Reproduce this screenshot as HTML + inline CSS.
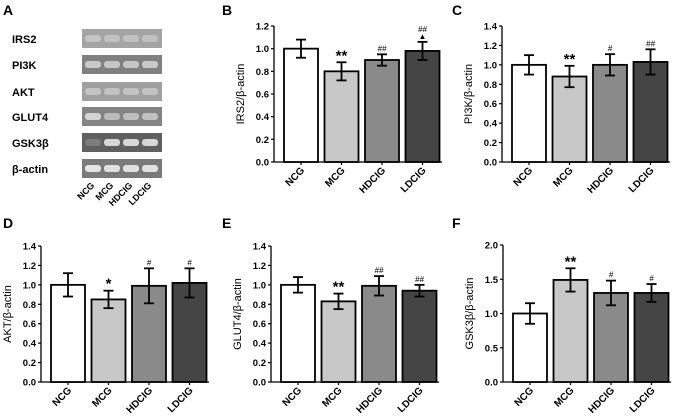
<!DOCTYPE html>
<html><head><meta charset="utf-8"><style>
html,body{margin:0;padding:0;background:#fff}
svg{display:block;font-family:"Liberation Sans",Arial,sans-serif}
</style></head><body>
<svg id="fig" width="673" height="417" viewBox="0 0 673 417"></svg>
<script>
const categories = ["NCG","MCG","HDCIG","LDCIG"];
const bValues = [1.0,0.8,0.9,0.98];
const bErrors = [0.08,0.08,0.05,0.08];
const bMarks = ["","**","##","##▲"];
const cValues = [1.0,0.88,1.0,1.03];
const cErrors = [0.1,0.11,0.11,0.13];
const cMarks = ["","**","#","##"];
const dValues = [1.0,0.85,0.99,1.02];
const dErrors = [0.12,0.09,0.18,0.15];
const dMarks = ["","*","#","#"];
const eValues = [1.0,0.83,0.99,0.94];
const eErrors = [0.08,0.08,0.1,0.06];
const eMarks = ["","**","##","##"];
const fValues = [1.0,1.49,1.3,1.3];
const fErrors = [0.15,0.17,0.18,0.13];
const fMarks = ["","**","#","#"];
const ticks12 = [0,0.2,0.4,0.6,0.8,1.0,1.2];
const ticks14 = [0,0.2,0.4,0.6,0.8,1.0,1.2,1.4];
const ticks20 = [0,0.5,1.0,1.5,2.0];
const gelGenes = ["IRS2","PI3K","AKT","GLUT4","GSK3β","β-actin"];
const fills = ["#ffffff","#c8c8c8","#8a8a8a","#454545"];
const NS="http://www.w3.org/2000/svg";
const svg=document.getElementById('fig');
function el(tag,attrs,parent,text){const e=document.createElementNS(NS,tag);for(const k in attrs)e.setAttribute(k,attrs[k]);if(text!==undefined)e.textContent=text;(parent||svg).appendChild(e);return e;}

function panel(letter,lx,ly,ax,top,bottom,ymax,ticks,values,errors,marks,ylabel){
  const g=el('g',{});
  
  
  const L=el('text',{x:lx,y:ly,'font-size':14,'font-weight':'bold'},g,letter);
  
  
  const y=v=>bottom-(v/ymax)*(bottom-top);
  const right=ax+168;
  const axG=el('g',{},g);
  
  
  el('line',{x1:ax,y1:top,x2:ax,y2:bottom,stroke:'#000','stroke-width':1.3},axG);
  ticks.forEach(t=>{
    el('line',{x1:ax-3,y1:y(t),x2:ax,y2:y(t),stroke:'#000','stroke-width':1.2},axG);
    const tl=el('text',{x:ax-5,y:y(t)+3.5,'font-size':9.5,'font-weight':'bold','text-anchor':'end'},axG,t.toFixed(1));
    
    
  });
  const yt=el('text',{transform:`translate(${ax-30},${(top+bottom)/2}) rotate(-90)`,'font-size':11,'text-anchor':'middle'},g,ylabel);
  
  
  const xa=el('line',{x1:ax,y1:bottom,x2:right,y2:bottom,stroke:'#000','stroke-width':1.3},g);
  
  
  values.forEach((v,i)=>{
    const x0=ax+10+i*40.5, w=34, cx=x0+w/2;
    const r=el('rect',{x:x0,y:y(v),width:w,height:bottom-y(v),fill:fills[i],stroke:'#000','stroke-width':1.8},g);
    
    
    const eg=el('g',{stroke:'#000','stroke-width':1.8},g);
    
    
    const hi=y(v+errors[i]),lo=y(v-errors[i]);
    el('line',{x1:cx,y1:hi,x2:cx,y2:lo},eg);
    el('line',{x1:cx-5,y1:hi,x2:cx+5,y2:hi},eg);
    el('line',{x1:cx-5,y1:lo,x2:cx+5,y2:lo},eg);
    el('line',{x1:cx,y1:bottom,x2:cx,y2:bottom+3,stroke:'#000','stroke-width':1.2},g);
    const m=marks[i];
    if(m){
      if(m.indexOf('▲')>=0){
        const a=el('text',{x:cx,y:hi-3,'font-size':8,'text-anchor':'middle'},g,'▲');
        
        
        const b=el('text',{x:cx,y:hi-10,'font-size':8,'font-style':'italic','text-anchor':'middle'},g,'##');
        
        
      } else {
        const star=m.indexOf('*')>=0;
        const s=el('text',{x:cx,y:hi-(star?-7:3),'font-size':star?15:8,'font-weight':star?'bold':'normal','font-style':star?'normal':'italic','text-anchor':'middle'},g,m);
        if(star) s.setAttribute('y',hi+7-9);
        
        
      }
    }
    const xl=el('text',{transform:`translate(${cx+4},${bottom+9}) rotate(-45)`,'font-size':10,'font-weight':'bold','text-anchor':'end'},g,categories[i]);
    
    
  });
}
panel('B',222,15,274,26,162,1.2,ticks12,bValues,bErrors,bMarks,'IRS2/β-actin');
panel('C',452,15,502,26,162,1.4,ticks14,cValues,cErrors,cMarks,'PI3K/β-actin');
panel('D',3,228,41,246,382,1.4,ticks14,dValues,dErrors,dMarks,'AKT/β-actin');
panel('E',222,228,271,246,382,1.4,ticks14,eValues,eErrors,eMarks,'GLUT4/β-actin');
panel('F',452,228,503,245,382,2.0,ticks20,fValues,fErrors,fMarks,'GSK3β/β-actin');

// Gel panel A
const ga=el('g',{});


const la=el('text',{x:3,y:15,'font-size':14,'font-weight':'bold'},ga,'A');


const rowTops=[29,55,82,107,133,159];
const bright=[["#c8c8c8","#c4c4c4","#c4c4c4","#c4c4c4"],["#d0d0d0","#cccccc","#cccccc","#d0d0d0"],["#c8c8c8","#c4c4c4","#c6c6c6","#c6c6c6"],["#dcdcdc","#c0c0c0","#c4c4c4","#c8c8c8"],["#808080","#e4e4e4","#e4e4e4","#e4e4e4"],["#f0f0f0","#ececec","#ececec","#ececec"]];
const bg=["#a4a4a4","#808080","#a0a0a0","#848484","#606060","#7a7a7a"];
gelGenes.forEach((gname,r)=>{
  const t=el('text',{x:12,y:rowTops[r]+14,'font-size':11,'font-weight':'bold'},ga,gname);
  
  
  const box=el('rect',{x:82,y:rowTops[r],width:80,height:19,fill:bg[r]},ga);
  
  
  for(let c=0;c<4;c++){
    el('rect',{x:85+c*19,y:rowTops[r]+6,width:16,height:7,rx:3,fill:bright[r][c],opacity:0.9},ga);
  }
});
categories.forEach((c,i)=>{
  const t=el('text',{transform:`translate(${95+i*19},${186}) rotate(-45)`,'font-size':9,'font-weight':'bold','text-anchor':'end'},ga,c);
  
  
});
</script>
</body></html>
